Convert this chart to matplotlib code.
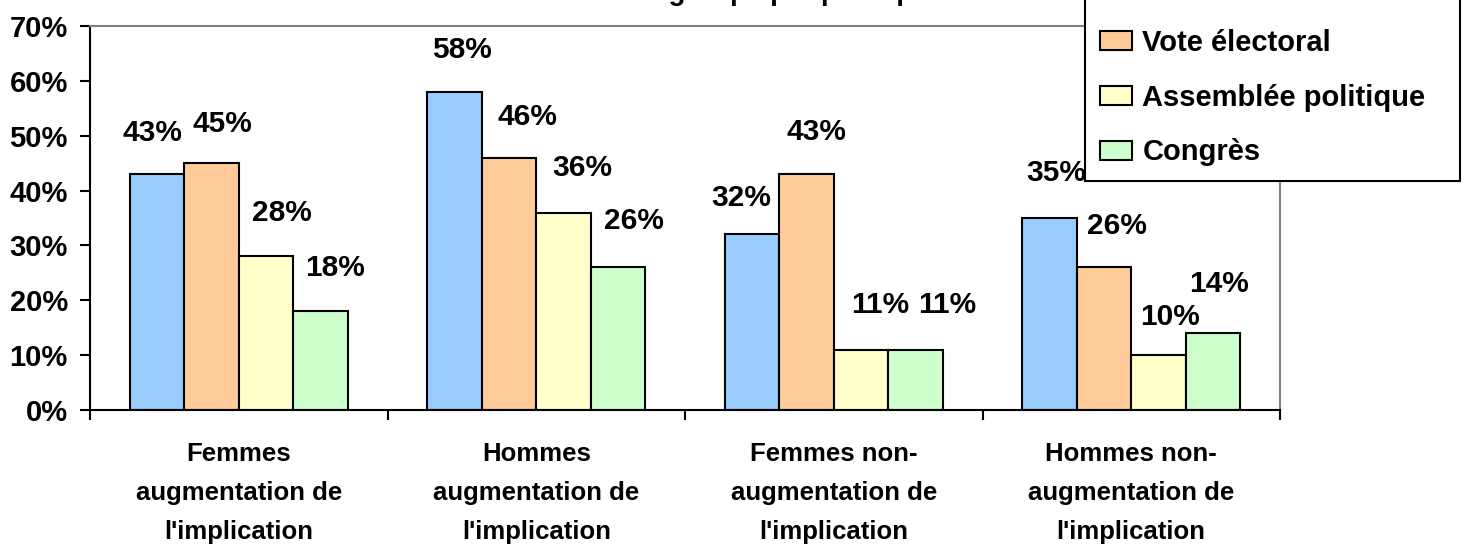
import matplotlib
matplotlib.use("Agg")
import matplotlib.pyplot as plt
from matplotlib.patches import Rectangle
from matplotlib.legend_handler import HandlerPatch
import numpy as np

plt.rcParams['font.family'] = ['Liberation Sans', 'DejaVu Sans']
plt.rcParams['font.weight'] = 'bold'

categories = ["Femmes\naugmentation de\nl'implication",
              "Hommes\naugmentation de\nl'implication",
              "Femmes non-\naugmentation de\nl'implication",
              "Hommes non-\naugmentation de\nl'implication"]
series = ["Discussion", "Vote électoral", "Assemblée politique", "Congrès"]
values = [[43, 58, 32, 35],
          [45, 46, 43, 26],
          [28, 36, 11, 10],
          [18, 26, 11, 14]]
colors = ["#99CCFF", "#FFCC99", "#FFFFCC", "#CCFFCC"]
# label nudges (pixels right, pixels above bar top) per series / category
nudge_x = [[-5, 8, -11, 7], [11, 18, 10, 13], [16, 19, 19, 11], [14, 16, 32, 6]]
nudge_y = [[41, 42, 36, 45], [39, 41, 42, 41], [43, 45, 45, 38], [43, 46, 45, 49]]


class SquareHandler(HandlerPatch):
    # square swatch pushed to the right end of the handle box
    def create_artists(self, legend, orig_handle, xdescent, ydescent,
                       width, height, fontsize, trans):
        s = height
        p = Rectangle((-xdescent + width - s, -ydescent), s, s)
        self.update_prop(p, orig_handle, legend)
        p.set_transform(trans)
        return [p]


W, H = 1463, 545
fig = plt.figure(figsize=(W / 100, H / 100), dpi=100)
ax = fig.add_axes([90 / W, 1 - 410 / H, (1280 - 90) / W, (410 - 26) / H])

x = np.arange(len(categories))
w = 0.1833
for i, (name, vals) in enumerate(zip(series, values)):
    pos = x + (i - 1.5) * w
    ax.bar(pos, vals, width=w, color=colors[i], edgecolor='black',
           linewidth=1.5, label=name, zorder=2)
    for j, (p, v) in enumerate(zip(pos, vals)):
        ax.annotate(f"{v}%", (p, v), xytext=(nudge_x[i][j] * 0.72, nudge_y[i][j] * 0.72),
                    textcoords='offset points', ha='center', va='center',
                    fontsize=21.5, fontweight='bold')

ax.set_xlim(-0.5, len(categories) - 0.5)
ax.set_ylim(0, 70)
ax.set_yticks(range(0, 71, 10))
ax.set_yticklabels([f"{t}%" for t in range(0, 71, 10)], fontsize=21, fontweight='bold')
ax.set_xticks(np.arange(-0.5, len(categories), 1.0))
ax.set_xticklabels([])
ax.set_xticks(x, minor=True)
ax.set_xticklabels(categories, minor=True, fontsize=18.5, fontweight='bold', linespacing=1.8)
ax.tick_params(axis='x', which='major', direction='out', length=7, width=1.5)
ax.tick_params(axis='x', which='minor', length=0, pad=23)
ax.tick_params(axis='y', direction='out', length=7, width=1.5, pad=9)

for s in ['left', 'bottom']:
    ax.spines[s].set_linewidth(1.5)
    ax.spines[s].set_color('black')
for s in ['top', 'right']:
    ax.spines[s].set_linewidth(1.5)
    ax.spines[s].set_color('#808080')

# title, cut off by the top edge so only descenders show
fig.text(712 / W, 1 + 0.5 / H, "Taux selon le groupe par politique", ha='center',
         va='baseline', fontsize=20, fontweight='bold')

leg = fig.legend(loc='lower left', bbox_to_anchor=(1085 / W, 1 - 181 / H, 375 / W, 0.4),
                 mode='expand', borderaxespad=0, fontsize=21, frameon=True, fancybox=False,
                 handlelength=1.12, handleheight=0.62, handletextpad=0.35,
                 labelspacing=0.92, borderpad=0.5,
                 handler_map={Rectangle: SquareHandler()})
leg.get_frame().set_edgecolor('black')
leg.get_frame().set_linewidth(1.5)
leg.get_frame().set_alpha(1)
for t in leg.get_texts():
    t.set_fontweight('bold')

fig.savefig("out.png", dpi=100)
